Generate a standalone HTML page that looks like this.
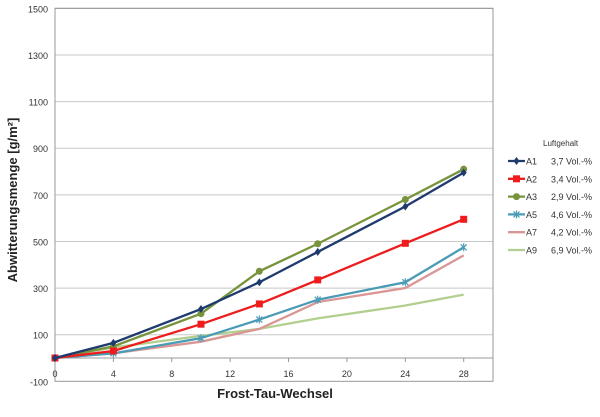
<!DOCTYPE html>
<html><head><meta charset="utf-8"><style>
body{margin:0;background:#fff;font-family:"Liberation Sans",sans-serif;}
svg text{font-family:"Liberation Sans",sans-serif;}
</style></head><body>
<svg width="600" height="412" xmlns="http://www.w3.org/2000/svg">
<g id="grid"></g>
<g id="series"></g>
<g id="legend"></g>
<text x="17" y="200" transform="rotate(-90 17 200)" text-anchor="middle" font-size="13" font-weight="bold" fill="#222">Abwitterungsmenge [g/m²]</text>
<text x="275" y="398" text-anchor="middle" font-size="13" font-weight="bold" fill="#222">Frost-Tau-Wechsel</text>
</svg>
<script>
const xs=[0,4,10,14,18,24,28];
const names=["A1","A2","A3","A5","A7","A9"];
const luft=["3,7 Vol.-%","3,4 Vol.-%","2,9 Vol.-%","4,6 Vol.-%","4,2 Vol.-%","6,9 Vol.-%"];
const vA1=[0,65,210,325,455,650,795];
const vA2=[0,30,145,232,335,492,595];
const vA3=[0,50,190,372,490,680,810];
const vA5=[0,20,85,165,250,325,475];
const vA7=[0,20,70,125,240,300,440];
const vA9=[0,45,95,125,170,225,272];
const yTicks=[-100,100,300,500,700,900,1100,1300,1500];
const xTicks=[0,4,8,12,16,20,24,28];
const colors=["#1f3a6e","#ee1c1c","#77933c","#4a9bb5","#d99694","#b3cf8f"];
const markers=["diamond","square","circle","x","none","none"];
const X=v=>55+v*(463.7-55)/28;
const Y=v=>358-v*(373/1600);
const NS="http://www.w3.org/2000/svg";
function mk(t,a,p){const e=document.createElementNS(NS,t);for(const k in a)e.setAttribute(k,a[k]);p.appendChild(e);return e;}
const g=document.getElementById('grid');
yTicks.forEach(v=>{
 if(v>-100){const l=mk('line',{x1:55,x2:493,y1:Y(v),y2:Y(v),stroke:v==1500?'#999':'#c8c8c8','stroke-width':1},g);
 
 }
 const t=mk('text',{x:48,y:Y(v)+4,'text-anchor':'end','font-size':9,fill:'#333'},g);t.textContent=v;
 
 
});
const fr=mk('rect',{x:55,y:Y(1500),width:438,height:Y(-100)-Y(1500),fill:'none',stroke:'#999'},g);


const ax=mk('line',{x1:55,x2:493,y1:Y(0),y2:Y(0),stroke:'#999'},g);


xTicks.forEach(v=>{
 mk('line',{x1:X(v),x2:X(v),y1:Y(0),y2:Y(0)+4,stroke:'#999'},g);
 const t=mk('text',{x:X(v),y:377,'text-anchor':'middle','font-size':9,fill:'#333'},g);t.textContent=v;
 
 
});
function marker(type,x,y,c,p){
 if(type=='diamond')return mk('path',{d:`M${x} ${y-4}L${x+3} ${y}L${x} ${y+4}L${x-3} ${y}Z`,fill:c},p);
 if(type=='square')return mk('rect',{x:x-3.5,y:y-3.5,width:7,height:7,fill:c},p);
 if(type=='circle')return mk('circle',{cx:x,cy:y,r:3.5,fill:c},p);
 if(type=='x')return mk('path',{d:`M${x-3} ${y-3}L${x+3} ${y+3}M${x+3} ${y-3}L${x-3} ${y+3}M${x} ${y-4}L${x} ${y+4}`,stroke:c,'stroke-width':1.2},p);
 return null;
}
const s=document.getElementById('series');
const data=[vA1,vA2,vA3,vA5,vA7,vA9];
for(let i=data.length-1;i>=0;i--){
 const vals=data[i];
 const sg=mk('g',{},s);
 
 
 mk('polyline',{points:vals.map((v,j)=>X(xs[j])+','+Y(v)).join(' '),fill:'none',stroke:colors[i],'stroke-width':2.3},sg);
 vals.forEach((v,j)=>{const m=marker(markers[i],X(xs[j]),Y(v),colors[i],sg);
  if(m){
  }});
}
const lg=document.getElementById('legend');
const lt=mk('text',{x:543,y:146,'font-size':8,fill:'#333'},lg);lt.textContent='Luftgehalt';


names.forEach((n,i)=>{
 const y=161+i*17.8;
 const eg=mk('g',{},lg);
 
 
 mk('line',{x1:508,x2:525,y1:y,y2:y,stroke:colors[i],'stroke-width':2.3},eg);
 marker(markers[i],516.5,y,colors[i],eg);
 const t1=mk('text',{x:526,y:y+3.5,'font-size':9,fill:'#333'},eg);t1.textContent=n;
 const t2=mk('text',{x:551,y:y+3.5,'font-size':9,fill:'#333'},eg);t2.textContent=luft[i];
});
</script>
</body></html>
